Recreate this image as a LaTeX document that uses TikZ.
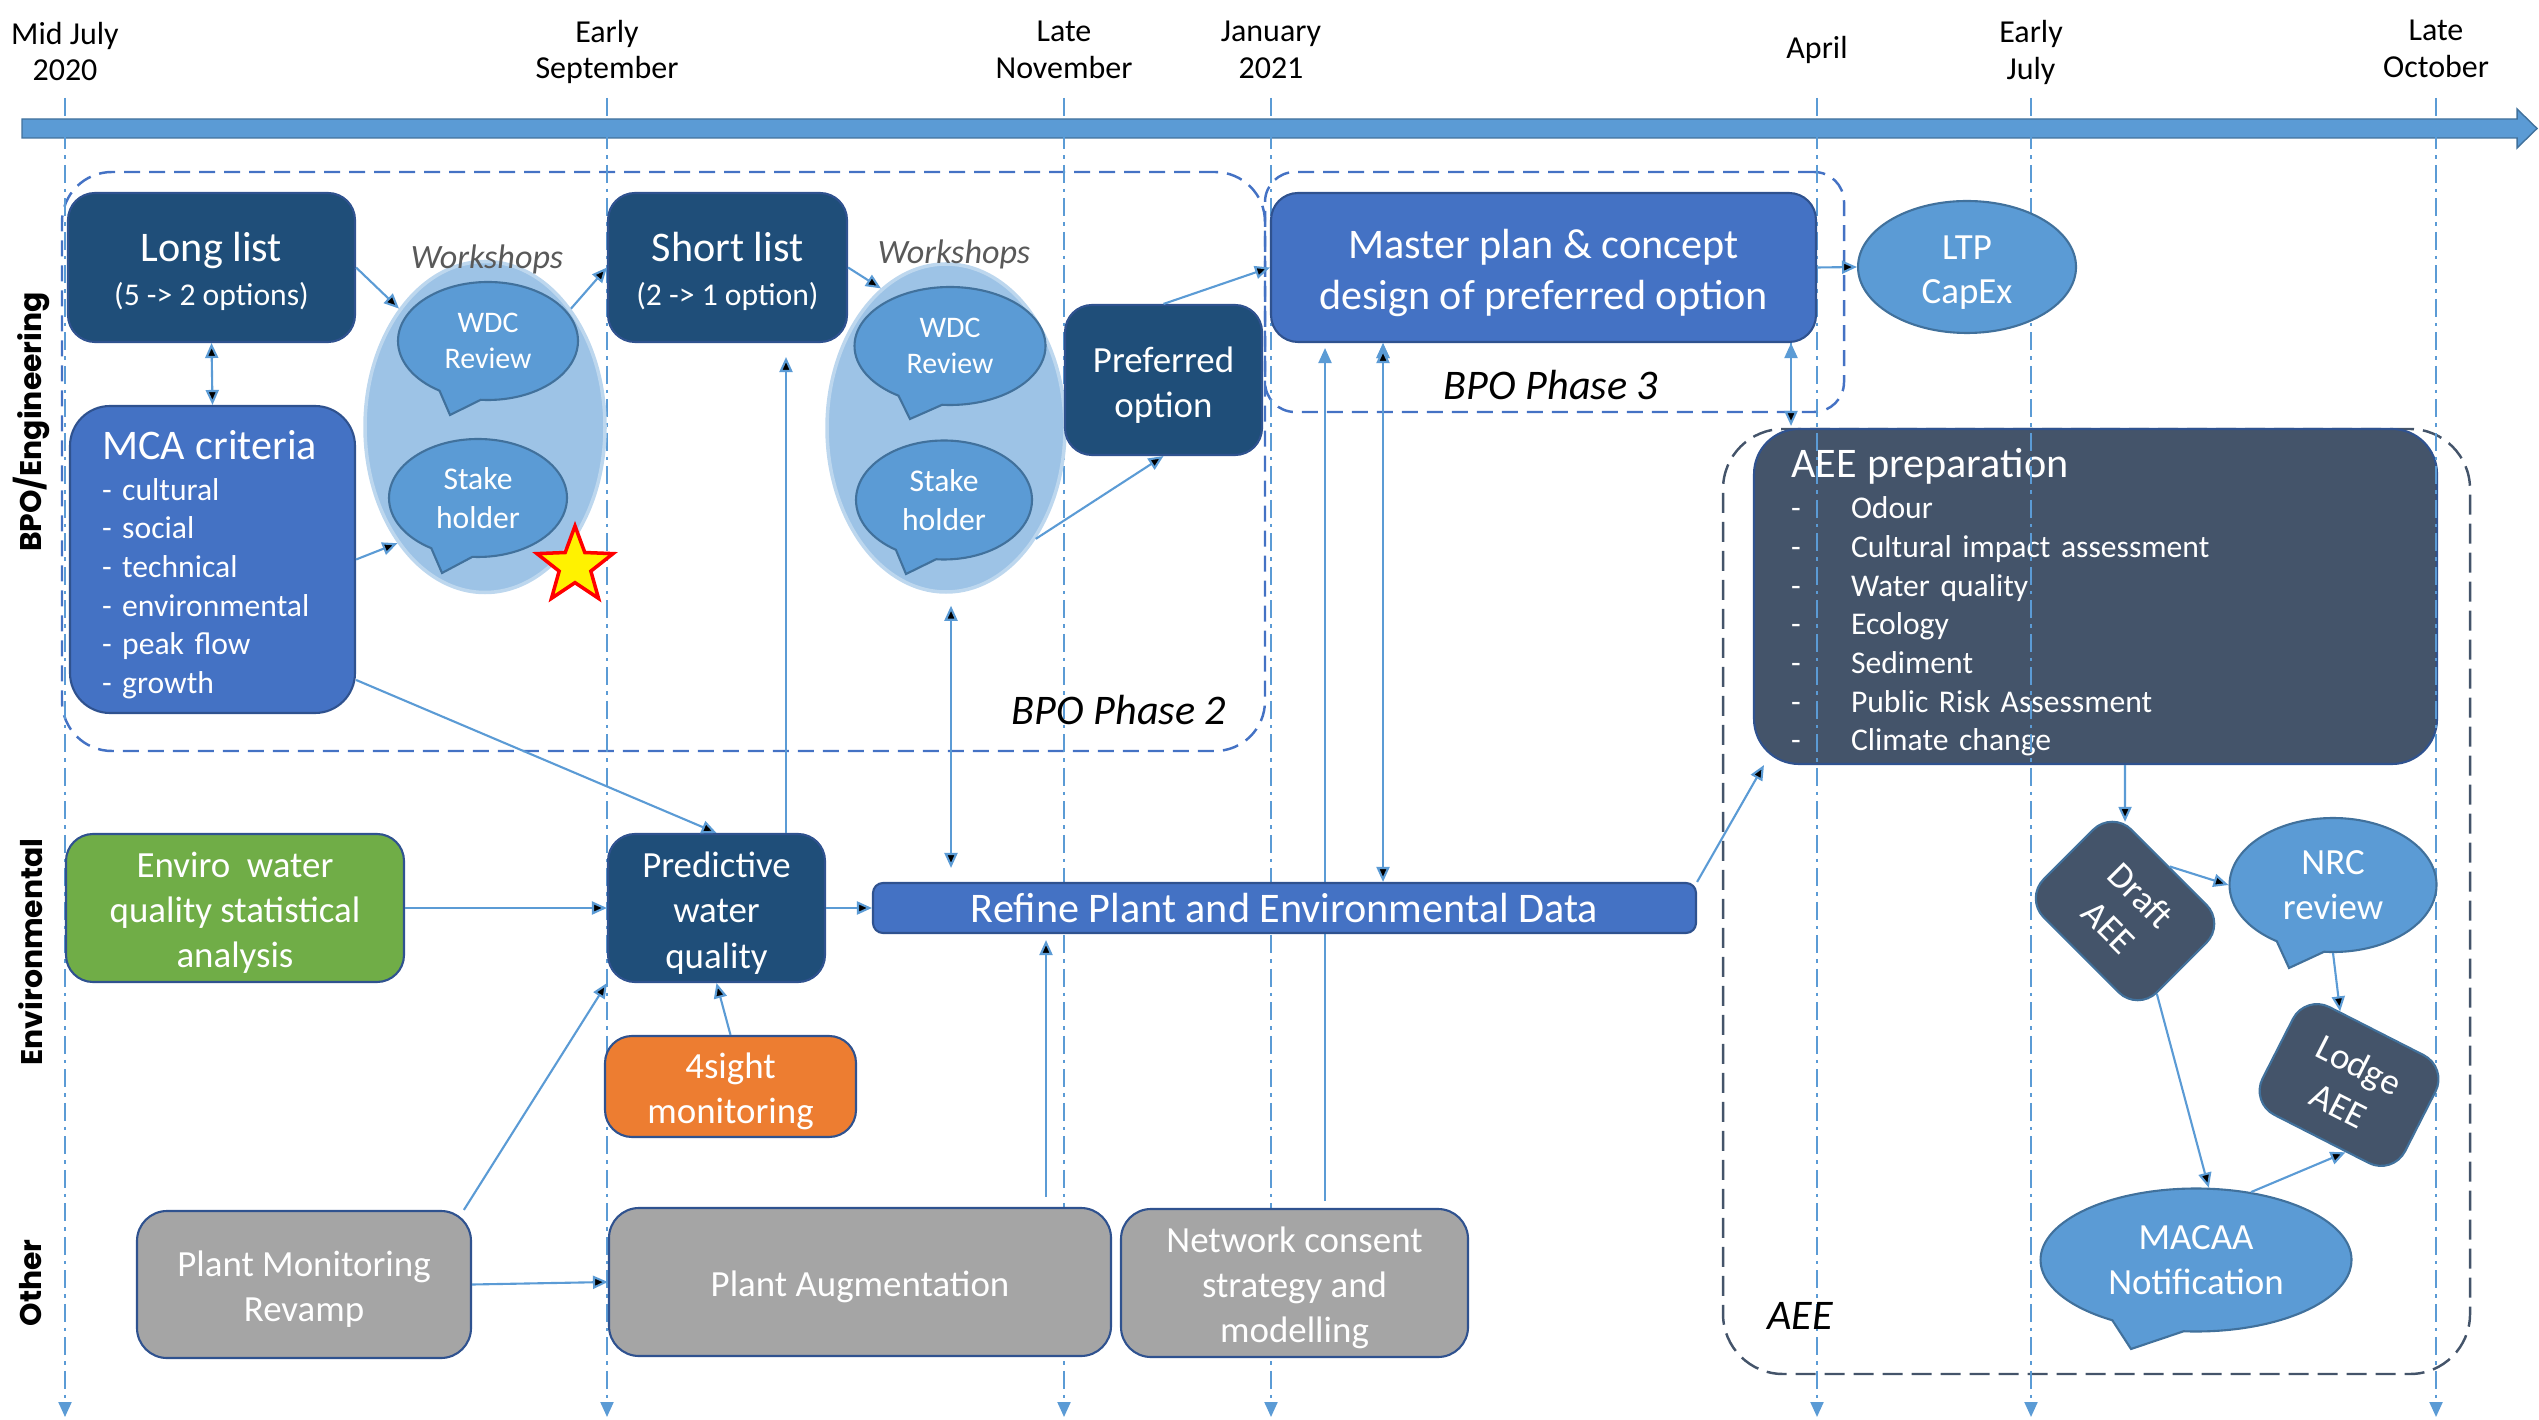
\documentclass[tikz,border=0pt]{standalone}
\usepackage{fontspec}
\setmainfont{Carlito}
\newfontfamily\lanefont{Poppins}
\usepackage{tikz}
\usetikzlibrary{arrows.meta}
\usetikzlibrary{shapes.geometric,shapes.callouts}
\usetikzlibrary{backgrounds}
\definecolor{navy}{HTML}{1F4E79}
\definecolor{midblue}{HTML}{4472C4}
\definecolor{skyblue}{HTML}{5B9BD5}
\definecolor{paleblue}{HTML}{9DC3E6}
\definecolor{palerim}{HTML}{BDD7EE}
\definecolor{slate}{HTML}{44546A}
\definecolor{leaf}{HTML}{70AD47}
\definecolor{amber}{HTML}{ED7D31}
\definecolor{stone}{HTML}{A5A5A5}
\definecolor{rim}{HTML}{2F528F}
\definecolor{bubblerim}{HTML}{41719C}
\definecolor{inkgrey}{HTML}{595959}
\newcommand{\txtL}{\fontsize{12}{14.5}\selectfont}
\newcommand{\txtM}{\fontsize{10.5}{12.8}\selectfont}
\newcommand{\txtS}{\fontsize{9}{11}\selectfont}
\newcommand{\capstrut}{\rule{0pt}{0.97em}}

\begin{document}
\begin{tikzpicture}[x=0.1mm,y=-0.1mm,>={Triangle[length=1.5mm,width=1.3mm]},
		box/.style={rectangle,rounded corners=2.7mm,draw=rim,line width=0.6pt,text=white,align=center,inner sep=0pt},
		bubble/.style={ellipse callout,draw=bubblerim,line width=0.6pt,fill=skyblue,text=white,align=center,inner sep=0pt,callout pointer arc=28},
		phaseframe/.style={rectangle,draw=midblue,line width=0.7pt,dash pattern=on 1.6mm off 0.9mm,inner sep=0pt},
		dateline/.style={draw=skyblue,line width=0.6pt,dash pattern=on 1.8mm off 0.6mm on 0.35mm off 0.6mm},
		link/.style={draw=skyblue,line width=0.6pt},
		datelbl/.style={align=center,font=\fontsize{9.1}{10.5}\selectfont,inner sep=0pt},
		lane/.style={rotate=90,font=\lanefont\bfseries\fontsize{8.5}{10}\selectfont,inner sep=0pt},
		phaselbl/.style={font=\txtL\itshape,inner sep=0pt}]
		\useasboundingbox (0,0) rectangle (2539,1420);
		
		% time axis
		\filldraw[fill=skyblue,draw=bubblerim,line width=0.4pt] (22,119) -- (2517,119) -- (2517,109) -- (2537,128.5) -- (2517,148) -- (2517,138) -- (22,138) -- cycle;
		
		% phase frames
		\node[phaseframe,rounded corners=5mm,minimum width=120.3mm,minimum height=57.9mm] (phase2) at (663.5,461.5) {};
		\node[phaseframe,rounded corners=3mm,minimum width=57.9mm,minimum height=24mm] (phase3) at (1554.5,292) {};
		\node[phaseframe,draw=slate,dash pattern=on 2mm off 0.9mm,rounded corners=6mm,minimum width=74.7mm,minimum height=94.5mm] (aeeframe) at (2096.5,901.5) {};
		
		\node[box,fill=slate,rounded corners=4.5mm,minimum width=68.3mm,minimum height=33.5mm,text width=60.9mm,align=left,inner xsep=3.7mm,font=\txtS] (aeeprep) at (2095.5,596.5)
			{{\txtL AEE preparation}\\[0.7pt]
			\makebox[6mm][l]{-}Odour\\
			\makebox[6mm][l]{-}Cultural impact assessment\\
			\makebox[6mm][l]{-}Water quality\\
			\makebox[6mm][l]{-}Ecology\\
			\makebox[6mm][l]{-}Sediment\\
			\makebox[6mm][l]{-}Public Risk Assessment\\
			\makebox[6mm][l]{-}Climate change\par\vspace{-1.2mm}};
		
		% dates
		\node[datelbl] (julA) at (65,51.5) {Mid July\\2020};
		\node[datelbl] (sepA) at (607,52) {Early\\September};
		\node[datelbl] (novA) at (1064,49.5) {Late\\November};
		\node[datelbl] (janB) at (1271,49.5) {January\\2021};
		\node[datelbl] (aprB) at (1817,49.5) {April};
		\node[datelbl] (julB) at (2031,52.5) {Early\\July};
		\node[datelbl] (octB) at (2436,48.5) {Late\\October};
		\draw[dateline,->] (julA |- 0,98) -- (julA |- 0,1417);
		\draw[dateline,->] (sepA |- 0,98) -- (sepA |- 0,1417);
		\draw[dateline,->] (novA |- 0,98) -- (novA |- 0,1417);
		\draw[dateline,->] (janB |- 0,98) -- (janB |- 0,1417);
		\draw[dateline,->] (aprB |- 0,98) -- (aprB |- 0,1417);
		\draw[dateline,->] (julB |- 0,98) -- (julB |- 0,1417);
		\draw[dateline,->] (octB |- 0,98) -- (octB |- 0,1417);
		
		% lanes
		\node[lane] (laneBPO) at (31,422) {BPO/Engineering};
		\node[lane] (laneEnv) at (31,952) {Environmental};
		\node[lane] (laneOther) at (31,1283) {Other};
		
		% BPO / engineering
		\node[box,fill=navy,minimum width=28.7mm,minimum height=14.9mm,font=\txtS] (longlist) at (211.5,267.5) {{\txtL\rule{0pt}{10.7pt}Long list}\\[1.4pt](5 -> 2 options)};
		\node[box,fill=midblue,rounded corners=4mm,minimum width=28.5mm,minimum height=30.7mm,text width=22.1mm,align=left,inner xsep=3.2mm,font=\txtS] (mca) at (212.5,559.5)
			{{\txtL MCA criteria}\\[0.7pt] - cultural\\ - social\\ - technical\\ - environmental\\ - peak flow\\ - growth\par\vspace{-1mm}};
		
		\node[ellipse,fill=paleblue,draw=palerim,line width=1pt,minimum width=24mm,minimum height=33.1mm,inner sep=0pt] (wsA) at (485,427) {};
		\node[bubble,minimum width=18mm,minimum height=11.8mm,font=\fontsize{8.5}{10.3}\selectfont,callout absolute pointer={(450,415)}] (wdcA) at (488,341) {WDC\\Review};
		\node[bubble,minimum width=17.8mm,minimum height=11.8mm,font=\txtS,callout absolute pointer={(442,573)}] (stakeA) at (478,498) {Stake\\holder};
		\node[font=\fontsize{9.7}{11}\selectfont\itshape,text=inkgrey,inner sep=0pt] (workA) at (487,259) {Workshops};
		\node[star,star points=5,star point ratio=2.4,minimum size=8mm,fill=yellow,draw=red,line width=1pt,inner sep=0pt] (star) at (575,566) {};
		
		\node[box,fill=navy,minimum width=23.9mm,minimum height=14.9mm,font=\txtS] (shortlist) at (727.5,267.5) {{\txtL\rule{0pt}{10.7pt}Short list}\\[1.4pt](2 -> 1 option)};
		
		\node[ellipse,fill=paleblue,draw=palerim,line width=1pt,minimum width=23.8mm,minimum height=32.8mm,inner sep=0pt] (wsB) at (946,428) {};
		\node[bubble,minimum width=19.1mm,minimum height=11.8mm,font=\fontsize{8.5}{10.3}\selectfont,callout absolute pointer={(910,419)}] (wdcB) at (950,346) {WDC\\Review};
		\node[bubble,minimum width=17.6mm,minimum height=11.9mm,font=\txtS,callout absolute pointer={(906,574)}] (stakeB) at (944,500) {Stake\\holder};
		\node[font=\fontsize{9.7}{11}\selectfont\itshape,text=inkgrey,inner sep=0pt] (workB) at (954,254) {Workshops};
		
		\node[box,fill=navy,minimum width=19.7mm,minimum height=15mm,font=\fontsize{10.5}{13}\selectfont] (preferred) at (1163.5,380) {\capstrut Preferred\\option};
		\node[box,fill=midblue,minimum width=54.5mm,minimum height=14.9mm,font=\txtL] (master) at (1543.5,267.5) {\capstrut Master plan \& concept\\design of preferred option};
		\node[ellipse,fill=skyblue,draw=bubblerim,line width=0.6pt,text=white,align=center,inner sep=0pt,minimum width=21.8mm,minimum height=13.2mm,font=\fontsize{10.5}{12.5}\selectfont] (ltp) at (1967,267) {\capstrut LTP\\CapEx};
		
		\node[phaselbl] (phase2lbl) at (1119,710) {BPO Phase 2};
		\node[phaselbl] (phase3lbl) at (1551,385) {BPO Phase 3};
		\node[phaselbl] (aeelbl) at (1800,1316) {AEE};
		
		% environmental
		\node[box,fill=leaf,minimum width=33.8mm,minimum height=14.8mm,font=\txtM] (enviro) at (235,908) {\capstrut Enviro\ \ water\\quality statistical\\analysis};
		\node[box,fill=navy,minimum width=21.7mm,minimum height=14.8mm,font=\fontsize{10.5}{13}\selectfont] (predictive) at (716.5,908) {\capstrut Predictive\\water\\quality};
		\node[box,fill=amber,minimum width=25.1mm,minimum height=10.1mm,font=\txtM] (foursight) at (730.5,1086.5) {\capstrut 4sight\\monitoring};
		
		% other
		\node[box,fill=stone,rounded corners=3mm,minimum width=33.4mm,minimum height=14.7mm,font=\txtM] (revamp) at (304,1284.5) {\capstrut Plant Monitoring\\Revamp};
		\node[box,fill=stone,rounded corners=3mm,minimum width=50.2mm,minimum height=14.8mm,font=\txtM] (augment) at (860,1282) {\capstrut Plant Augmentation};
		\node[box,fill=stone,rounded corners=3mm,minimum width=34.7mm,minimum height=14.8mm,font=\txtM] (network) at (1294.5,1283) {\capstrut Network consent\\strategy and\\modelling};
		
		\coordinate (nettop) at ([xshift=3.05mm]network.north);
		\begin{scope}[on background layer]
		\draw[link,->,shorten <=0.7mm,shorten >=0.5mm] (nettop) -- (nettop |- master.south);
		\end{scope}
		
		\node[box,fill=midblue,rounded corners=1mm,minimum width=82.3mm,minimum height=5mm,font=\txtL] (refine) at (1284.5,908) {Refine Plant and Environmental Data};
		
		% AEE
		\node[box,fill=slate,draw=bubblerim,rotate=-45,minimum width=16mm,minimum height=12.4mm,font=\txtM] (draft) at (2125,911) {Draft\\AEE};
		\node[bubble,minimum width=20.7mm,minimum height=13.4mm,font=\txtM,callout absolute pointer={(2289,968)}] (nrc) at (2333,885) {NRC\\review};
		\node[box,fill=slate,draw=bubblerim,rotate=-27,minimum width=16mm,minimum height=12.1mm,font=\txtM] (lodge) at (2349,1085) {Lodge\\AEE};
		\node[bubble,minimum width=31.1mm,minimum height=14.3mm,font=\txtM,callout absolute pointer={(2131,1349)}] (macaa) at (2196,1260) {MACAA\\Notification};
		
		\coordinate (predtop) at ([xshift=6.95mm]predictive.north);
		\coordinate (wsbfoot) at ([xshift=0.5mm]wsB.south);
		\coordinate (augtop) at ([xshift=18.6mm]augment.north);
		\coordinate (mastfoot) at ([xshift=-16.05mm]master.south);
		\coordinate (mastfootB) at ([xshift=24.75mm]master.south);
		
		\path[link,->]
		(longlist.east) edge (wsA.126)
		(mca.east) edge (wsA.233)
		(wsA.54) edge (shortlist.west)
		(shortlist.east) edge (wsB.115)
		(wsB.309) edge (preferred.south)
		(preferred.north) edge (master.west)
		(mca.320) edge (predictive.north)
		(enviro.east) edge (predictive.west)
		(predictive.east) edge (refine.west)
		(foursight.north) edge (predictive.south)
		(revamp.25) edge (predictive.south west)
		(revamp.east) edge (augment.west)
		(master.east) edge (ltp.west)
		(refine.north east) edge ([xshift=1.1mm]aeeprep.south west)
		(aeeprep.south -| draft) edge (draft)
		(draft.north) edge (nrc.west)
		(nrc.south) edge (lodge)
		(draft.336) edge (macaa.80)
		(macaa.51) edge (lodge.294)
		(predtop) edge[shorten >=1.4mm] (predtop |- shortlist.south)
		(augtop) edge[shorten <=1mm,shorten >=0.6mm] (augtop |- refine.south)
		(mastfootB) edge[shorten >=0.2mm] (mastfootB |- aeeprep.north);
		\path[link,<->]
		(longlist.south) edge (mca.north)
		(wsbfoot) edge[shorten <=1.2mm,shorten >=1.4mm] (wsbfoot |- refine.north)
		(mastfoot) edge[shorten <=0.5mm] (mastfoot |- refine.north);
		\end{tikzpicture}
\end{document}
